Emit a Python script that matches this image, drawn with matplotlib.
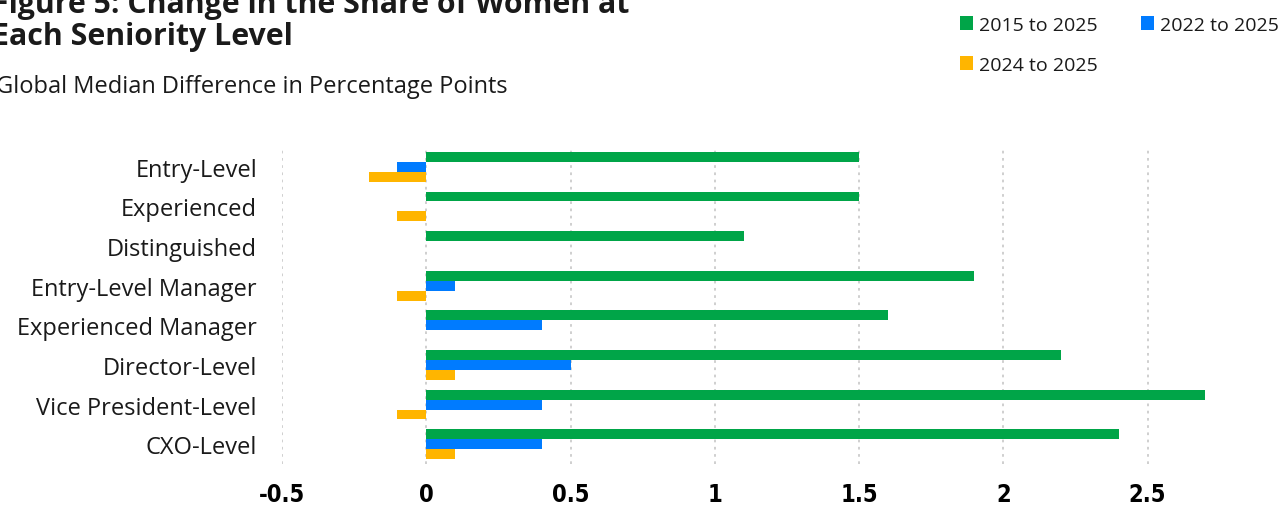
import matplotlib
matplotlib.use("Agg")
import matplotlib.pyplot as plt
import numpy as np

categories = ["Entry-Level", "Experienced", "Distinguished", "Entry-Level Manager",
              "Experienced Manager", "Director-Level", "Vice President-Level", "CXO-Level"]
s2015 = [1.5, 1.5, 1.1, 1.9, 1.6, 2.2, 2.7, 2.4]
s2022 = [-0.1, 0.0, 0.0, 0.1, 0.4, 0.5, 0.4, 0.4]
s2024 = [-0.2, -0.1, 0.0, -0.1, 0.0, 0.1, -0.1, 0.1]
series_labels = ["2015 to 2025", "2022 to 2025", "2024 to 2025"]
xticks = [-0.5, 0, 0.5, 1, 1.5, 2, 2.5]
xtick_labels = ["-0.5", "0", "0.5", "1", "1.5", "2", "2.5"]

GREEN = "#00A548"
BLUE = "#007BFF"
ORANGE = "#FFB500"
TEXT = "#1a1a1a"

plt.rcParams['font.family'] = ['Open Sans', 'DejaVu Sans']

fig = plt.figure(figsize=(12.86, 5.06), dpi=100)
ax = fig.add_axes([282/1286, 1-465/506, 1-282/1286, (465-148)/506])

y = np.arange(len(categories))
h = 0.25
b1 = ax.barh(y - h, s2015, height=h, color=GREEN, label=series_labels[0])
b2 = ax.barh(y, s2022, height=h, color=BLUE, label=series_labels[1])
b3 = ax.barh(y + h, s2024, height=h, color=ORANGE, label=series_labels[2])

ax.set_ylim(len(categories) - 0.5, -0.5)
ax.set_xlim(-0.5, 2.98)
ax.set_yticks(y)
ax.set_yticklabels(categories, fontsize=17, color=TEXT)
ax.set_xticks(xticks)
ax.set_xticklabels(xtick_labels, fontsize=17, fontweight="bold",
                   fontstretch="condensed", family=['DejaVu Sans'], color="black")
ax.tick_params(axis='y', length=0, pad=18)
ax.tick_params(axis='x', length=0, pad=13)
for s in ax.spines.values():
    s.set_visible(False)
ax.grid(axis='x', linestyle=(0, (1.5, 2.5)), color="#cccccc", linewidth=1.3)
ax.set_axisbelow(True)

fig.text(-0.006, 0.975, "Figure 5: Change in the Share of Women at", fontsize=21.8,
         fontweight="bold", va="baseline", ha="left", color=TEXT)
fig.text(-0.006, 1-45/506, "Each Seniority Level", fontsize=21.8,
         fontweight="bold", va="baseline", ha="left", color=TEXT)
fig.text(-0.003, 1-93/506, "Global Median Difference in Percentage Points", fontsize=17,
         va="baseline", ha="left", color=TEXT)

leg = fig.legend([b1, b3, b2], [series_labels[0], series_labels[2], series_labels[1]],
                 ncol=2, loc="upper left", bbox_to_anchor=(950/1286, 1-7/506),
                 frameon=False, fontsize=14, handlelength=0.7, handleheight=0.7,
                 handletextpad=0.3, columnspacing=2.2, labelspacing=1.15, borderpad=0)
for t in leg.get_texts():
    t.set_color(TEXT)

fig.savefig("out.png", dpi=100)
